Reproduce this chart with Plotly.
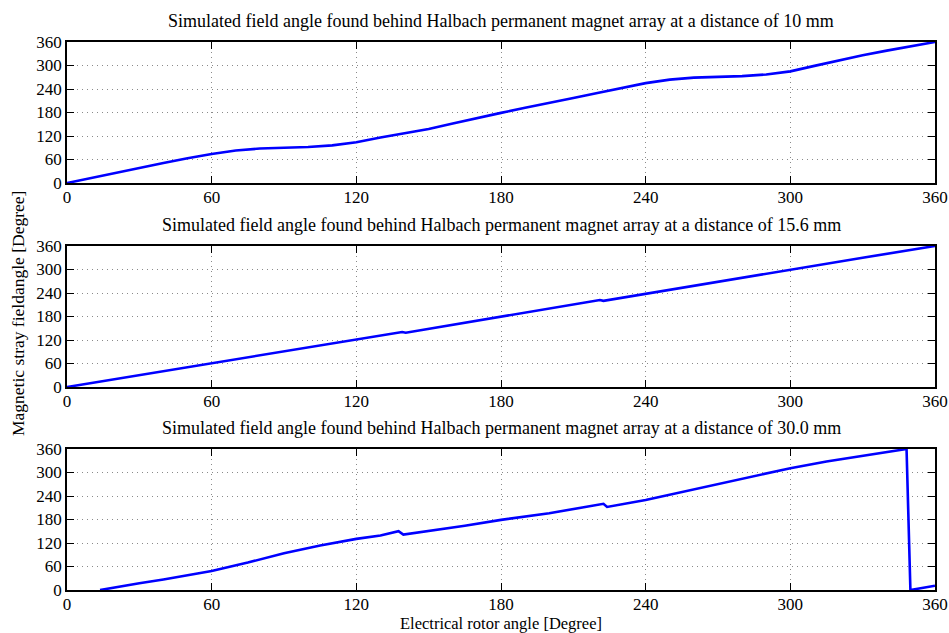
import plotly.graph_objects as go

# ---------------- data ----------------
titles = [
    "Simulated field angle found behind Halbach permanent magnet array at a distance of 10 mm",
    "Simulated field angle found behind Halbach permanent magnet array at a distance of 15.6 mm",
    "Simulated field angle found behind Halbach permanent magnet array at a distance of 30.0 mm",
]
tick_vals = [0, 60, 120, 180, 240, 300, 360]
tick_text = ["0", "60", "120", "180", "240", "300", "360"]
x_label = "Electrical rotor angle [Degree]"
y_label = "Magnetic stray fieldangle [Degree]"

x_10mm = [0, 10, 20, 30, 40, 50, 60, 70, 80, 90, 100, 110, 120, 130, 140, 150, 160, 170, 180,
          190, 200, 210, 220, 230, 240, 250, 260, 270, 280, 290, 300, 310, 320, 330, 340, 350, 360]
y_10mm = [0, 13, 26, 39, 51, 63, 74, 83, 88, 90, 92, 96, 104, 116, 127, 138, 152, 166, 179,
          192, 204, 217, 230, 243, 255, 264, 269, 271, 273, 277, 285, 299, 313, 326, 338, 349, 360]

x_156mm = [0, 30, 60, 90, 120, 139, 140.5, 180, 221, 222.5, 260, 300, 330, 360]
y_156mm = [0, 30.5, 61, 92, 121, 140.5, 138.5, 180, 222, 220, 259, 299, 330, 360]

x_30mm = [13.7, 20, 30, 40, 47, 60, 75, 90, 105, 120, 130, 137.5, 139.5, 150, 165, 180, 200,
          222.5, 224, 240, 258, 279, 300, 315, 334, 348.2, 349.8, 360]
y_30mm = [0, 6, 17, 27, 34, 48.6, 70, 94, 113.5, 130.5, 139, 150, 141.5, 150, 164, 179, 196,
          220, 212, 230, 254, 283, 311, 328, 346, 360, 0, 11]

series = [(x_10mm, y_10mm), (x_156mm, y_156mm), (x_30mm, y_30mm)]

# ---------------- layout geometry ----------------
W, H = 949, 633
L, R, T, B = 67, 14, 42, 43
plot_h = H - T - B  # 548
panels_px = [(42, 183), (246, 387), (449, 590)]  # (top, bottom) in pixels


def py_to_paper(py):
    return (H - B - py) / plot_h


def px_to_paper(px):
    return (px - L) / (W - L - R)


FONT = "Liberation Serif, Times New Roman, serif"
FS = 17

fig = go.Figure()
layout_axes = {}
for i, ((xs, ys), (top, bot)) in enumerate(zip(series, panels_px)):
    n = i + 1
    xa = "x" if n == 1 else f"x{n}"
    ya = "y" if n == 1 else f"y{n}"
    fig.add_trace(go.Scatter(x=xs, y=ys, mode="lines", xaxis=xa, yaxis=ya,
                             line=dict(color="#0000ff", width=2.6),
                             showlegend=False, hoverinfo="skip"))
    common = dict(showline=True, linecolor="black", linewidth=1.5, mirror="ticks",
                  ticks="inside", ticklen=7, tickwidth=1, tickcolor="black",
                  showgrid=True, gridcolor="#8a8a8a", griddash="1px,4px", gridwidth=1,
                  zeroline=False, tickvals=tick_vals, ticktext=tick_text,
                  tickfont=dict(family=FONT, size=FS, color="black"),
                  range=[0, 360], fixedrange=True, automargin=False)
    xname = "xaxis" if n == 1 else f"xaxis{n}"
    yname = "yaxis" if n == 1 else f"yaxis{n}"
    layout_axes[xname] = dict(common, domain=[0, 1], anchor=ya, ticklabelstandoff=-2)
    layout_axes[yname] = dict(common, domain=[py_to_paper(bot), py_to_paper(top)], anchor=xa)

title_py = [21, 225, 428]
annotations = []
for t, tp in zip(titles, title_py):
    annotations.append(dict(text=t, x=0.5, y=py_to_paper(tp), xref="paper", yref="paper",
                            xanchor="center", yanchor="middle", showarrow=False,
                            font=dict(family=FONT, size=18, color="black")))
annotations.append(dict(text=x_label, x=0.5, y=py_to_paper(623), xref="paper", yref="paper",
                        xanchor="center", yanchor="middle", showarrow=False,
                        font=dict(family=FONT, size=16.5, color="black")))
annotations.append(dict(text=y_label, x=px_to_paper(18), y=py_to_paper(314), xref="paper",
                        yref="paper", xanchor="center", yanchor="middle", showarrow=False,
                        textangle=-90, font=dict(family=FONT, size=17.5, color="black")))

fig.update_layout(width=W, height=H, margin=dict(l=L, r=R, t=T, b=B, pad=0, autoexpand=False),
                  paper_bgcolor="white", plot_bgcolor="white",
                  annotations=annotations, **layout_axes)

fig.write_html("out.html", config={"displayModeBar": False})
